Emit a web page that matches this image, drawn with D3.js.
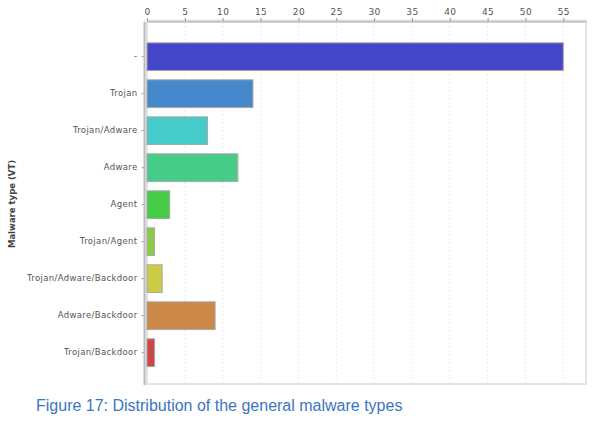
<!DOCTYPE html>
<html>
<head>
<meta charset="utf-8">
<script src="https://cdn.jsdelivr.net/npm/d3@7"></script>
<style>
  body { margin: 0; background: #fff; }
  svg { display: block; }
</style>
</head>
<body>
<div id="chart"></div>
<script>
//data
var categories = ["-", "Trojan", "Trojan/Adware", "Adware", "Agent", "Trojan/Agent",
  "Trojan/Adware/Backdoor", "Adware/Backdoor", "Trojan/Backdoor"];
var counts = [55, 14, 8, 12, 3, 1, 2, 9, 1];
var barColors = ["#4646c8", "#4588cb", "#46cbcb", "#46cb88", "#46cb46", "#88cb46",
  "#cbcb46", "#cb8846", "#cb4646"];
var xTicks = [0, 5, 10, 15, 20, 25, 30, 35, 40, 45, 50, 55];

var w = 600, h = 425;
var plot = {left: 147, right: 586, top: 22, bottom: 384};

var svg = d3.select("#chart").append("svg")
  .attr("width", w)
  .attr("height", h);

var x = d3.scaleLinear().domain([0, 58]).range([plot.left, plot.right]);
var y = d3.scaleBand().domain(categories)
  .range([38.2, 371.2])
  .paddingInner(0.25)
  .paddingOuter(0.125);

//grid lines
svg.append("g")
  .selectAll("line")
  .data(xTicks.slice(1))
  .enter()
  .append("line")
  .attr("x1", function(d) { return x(d); })
  .attr("x2", function(d) { return x(d); })
  .attr("y1", plot.top)
  .attr("y2", plot.bottom)
  .attr("stroke", "#ebebeb")
  .attr("stroke-width", 1)
  .attr("stroke-dasharray", "2,2");

//frame (double grey line look)
svg.append("rect")
  .attr("x", plot.left)
  .attr("y", plot.top)
  .attr("width", plot.right - plot.left)
  .attr("height", plot.bottom - plot.top)
  .attr("fill", "none")
  .attr("stroke", "#d0d0d0")
  .attr("stroke-width", 1.2);
svg.append("rect")
  .attr("x", plot.left - 2)
  .attr("y", plot.top - 2)
  .attr("width", plot.right - plot.left + 2)
  .attr("height", plot.bottom - plot.top + 2)
  .attr("fill", "none")
  .attr("stroke", "#e4e4e4")
  .attr("stroke-width", 1);

//bars
svg.append("g")
  .selectAll("rect")
  .data(counts)
  .enter()
  .append("rect")
  .attr("x", x(0))
  .attr("y", function(d, i) { return y(categories[i]); })
  .attr("width", function(d) { return x(d) - x(0); })
  .attr("height", y.bandwidth())
  .attr("fill", function(d, i) { return barColors[i]; })
  .attr("stroke", "#a8a8a8")
  .attr("stroke-width", 1);

//top axis
var xAxis = svg.append("g")
  .attr("transform", "translate(0," + (plot.top - 1) + ")")
  .call(d3.axisTop(x).tickValues(xTicks).tickSize(3).tickSizeOuter(0));
xAxis.select(".domain").attr("stroke", "#bbb").attr("stroke-width", 1.5);
xAxis.selectAll(".tick line").attr("stroke", "#999");
xAxis.selectAll("text")
  .attr("fill", "#555")
  .attr("font-family", "DejaVu Sans")
  .attr("font-size", 9)
  .attr("letter-spacing", 0.4)
  .attr("dy", "0");

//left axis
var yAxis = svg.append("g")
  .attr("transform", "translate(" + (plot.left - 2.5) + ",0)")
  .call(d3.axisLeft(y).tickSize(3).tickSizeOuter(0).tickPadding(4));
yAxis.select(".domain").remove();
yAxis.append("line")
  .attr("x1", 0).attr("x2", 0)
  .attr("y1", plot.top).attr("y2", plot.bottom + 1)
  .attr("stroke", "#bbb")
  .attr("stroke-width", 2);
yAxis.selectAll(".tick line").attr("stroke", "#999");
yAxis.selectAll("text")
  .attr("fill", "#555")
  .attr("font-family", "DejaVu Sans")
  .attr("font-size", 8.5)
  .attr("letter-spacing", 0.35);

//axis title
svg.append("text")
  .attr("transform", "translate(15,204) rotate(-90)")
  .attr("text-anchor", "middle")
  .attr("font-family", "DejaVu Sans")
  .attr("font-weight", "bold")
  .attr("font-size", 8.5)
  .attr("fill", "#444")
  .text("Malware type (VT)");

//caption
svg.append("text")
  .attr("x", 36)
  .attr("y", 411)
  .attr("font-family", "Liberation Sans")
  .attr("font-size", 16)
  .attr("fill", "#3a76c2")
  .text("Figure 17: Distribution of the general malware types");
</script>
</body>
</html>
